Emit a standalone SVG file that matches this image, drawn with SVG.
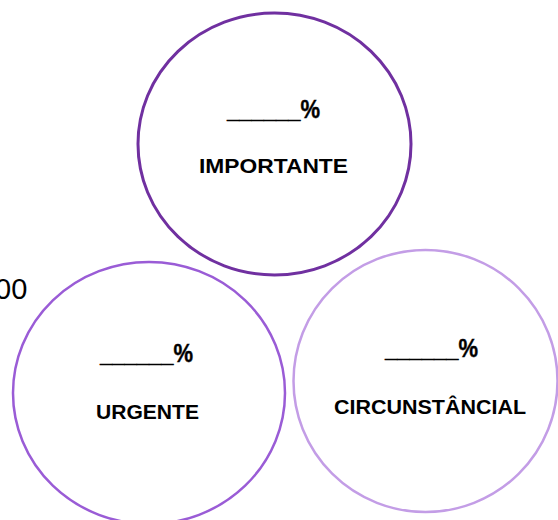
<svg xmlns="http://www.w3.org/2000/svg" width="558" height="520" viewBox="0 0 558 520">
  <style>
    .ring { fill: #ffffff; }
    .blank { font-family: "Liberation Sans", Arial, sans-serif; font-weight: bold; font-size: 25px; fill: #000000; text-anchor: middle; stroke: #000000; stroke-width: 0.4; }
    .label { font-family: "Liberation Sans", Arial, sans-serif; font-weight: bold; font-size: 21px; fill: #000000; text-anchor: middle; }
    .stray { font-family: "Liberation Sans", Arial, sans-serif; font-size: 29px; fill: #000000; }
  </style>
  <rect width="558" height="520" fill="#ffffff"/>
  <text class="stray" x="-5" y="299">00</text>

  <g id="importante">
    <ellipse class="ring" cx="274.5" cy="144" rx="136.5" ry="131" stroke="#7030A0" stroke-width="3"/>
    <text class="blank" x="273.5" y="118" textLength="93" lengthAdjust="spacingAndGlyphs">______%</text>
    <text class="label" x="273.5" y="173" textLength="149" lengthAdjust="spacingAndGlyphs">IMPORTANTE</text>
  </g>

  <g id="urgente">
    <ellipse class="ring" cx="149" cy="393" rx="136" ry="131" stroke="#9A5CD6" stroke-width="2.5"/>
    <text class="blank" x="146.5" y="362" textLength="93" lengthAdjust="spacingAndGlyphs">______%</text>
    <text class="label" x="147.5" y="419" textLength="103" lengthAdjust="spacingAndGlyphs">URGENTE</text>
  </g>

  <g id="circunstancial">
    <ellipse class="ring" cx="425.5" cy="381" rx="132" ry="131" stroke="#C39DE6" stroke-width="2.5"/>
    <text class="blank" x="431.5" y="357" textLength="93" lengthAdjust="spacingAndGlyphs">______%</text>
    <text class="label" x="430" y="414" textLength="192" lengthAdjust="spacingAndGlyphs">CIRCUNSTÂNCIAL</text>
  </g>

  <g id="connectors"></g>
</svg>
